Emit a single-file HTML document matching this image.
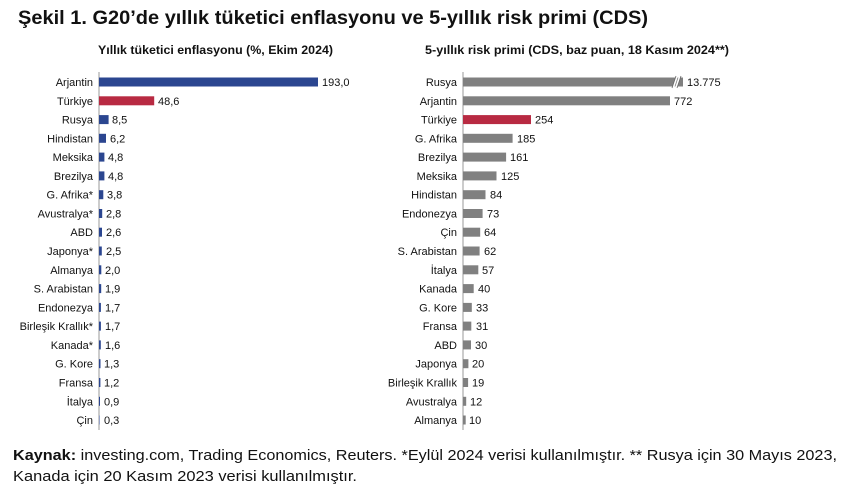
<!DOCTYPE html>
<html><head><meta charset="utf-8"><style>
html,body{margin:0;padding:0;background:#fff;}
svg{display:block;font-family:"Liberation Sans",Arial,sans-serif;}
.l{font-size:11px;fill:#111;text-anchor:end}
.v{font-size:11px;fill:#111}
</style></head><body>
<svg width="850" height="485" viewBox="0 0 850 485">
<text x="18" y="24" font-size="19" font-weight="bold" fill="#111" textLength="630" lengthAdjust="spacingAndGlyphs">Şekil 1. G20’de yıllık tüketici enflasyonu ve 5-yıllık risk primi (CDS)</text>
<text x="98" y="54" font-size="12" font-weight="bold" fill="#111" textLength="235" lengthAdjust="spacingAndGlyphs">Yıllık tüketici enflasyonu (%, Ekim 2024)</text>
<text x="425" y="54" font-size="12" font-weight="bold" fill="#111" textLength="304" lengthAdjust="spacingAndGlyphs">5-yıllık risk primi (CDS, baz puan, 18 Kasım 2024**)</text>
<line x1="99" y1="72" x2="99" y2="430" stroke="#999" stroke-width="1"/>
<line x1="463" y1="72" x2="463" y2="430" stroke="#999" stroke-width="1"/>

<g fill="#2b4690">
<g transform="translate(0,82)"><text class="l" x="93" y="4">Arjantin</text><rect x="99" y="-4.5" width="219" height="9"/><text class="v" x="322" y="4">193,0</text></g>
<g transform="translate(0,100.8)"><text class="l" x="93" y="4">Türkiye</text><rect x="99" y="-4.5" width="55.2" height="9" fill="#b82a42"/><text class="v" x="158" y="4">48,6</text></g>
<g transform="translate(0,119.6)"><text class="l" x="93" y="4">Rusya</text><rect x="99" y="-4.5" width="9.6" height="9"/><text class="v" x="112" y="4">8,5</text></g>
<g transform="translate(0,138.3)"><text class="l" x="93" y="4">Hindistan</text><rect x="99" y="-4.5" width="7" height="9"/><text class="v" x="110" y="4">6,2</text></g>
<g transform="translate(0,157.1)"><text class="l" x="93" y="4">Meksika</text><rect x="99" y="-4.5" width="5.4" height="9"/><text class="v" x="108" y="4">4,8</text></g>
<g transform="translate(0,175.9)"><text class="l" x="93" y="4">Brezilya</text><rect x="99" y="-4.5" width="5.4" height="9"/><text class="v" x="108" y="4">4,8</text></g>
<g transform="translate(0,194.7)"><text class="l" x="93" y="4">G. Afrika*</text><rect x="99" y="-4.5" width="4.3" height="9"/><text class="v" x="107" y="4">3,8</text></g>
<g transform="translate(0,213.5)"><text class="l" x="93" y="4">Avustralya*</text><rect x="99" y="-4.5" width="3.2" height="9"/><text class="v" x="106" y="4">2,8</text></g>
<g transform="translate(0,232.2)"><text class="l" x="93" y="4">ABD</text><rect x="99" y="-4.5" width="3" height="9"/><text class="v" x="106" y="4">2,6</text></g>
<g transform="translate(0,251)"><text class="l" x="93" y="4">Japonya*</text><rect x="99" y="-4.5" width="2.8" height="9"/><text class="v" x="106" y="4">2,5</text></g>
<g transform="translate(0,269.8)"><text class="l" x="93" y="4">Almanya</text><rect x="99" y="-4.5" width="2.3" height="9"/><text class="v" x="105" y="4">2,0</text></g>
<g transform="translate(0,288.6)"><text class="l" x="93" y="4">S. Arabistan</text><rect x="99" y="-4.5" width="2.2" height="9"/><text class="v" x="105" y="4">1,9</text></g>
<g transform="translate(0,307.4)"><text class="l" x="93" y="4">Endonezya</text><rect x="99" y="-4.5" width="1.9" height="9"/><text class="v" x="105" y="4">1,7</text></g>
<g transform="translate(0,326.1)"><text class="l" x="93" y="4">Birleşik Krallık*</text><rect x="99" y="-4.5" width="1.9" height="9"/><text class="v" x="105" y="4">1,7</text></g>
<g transform="translate(0,344.9)"><text class="l" x="93" y="4">Kanada*</text><rect x="99" y="-4.5" width="1.8" height="9"/><text class="v" x="105" y="4">1,6</text></g>
<g transform="translate(0,363.7)"><text class="l" x="93" y="4">G. Kore</text><rect x="99" y="-4.5" width="1.5" height="9"/><text class="v" x="104" y="4">1,3</text></g>
<g transform="translate(0,382.5)"><text class="l" x="93" y="4">Fransa</text><rect x="99" y="-4.5" width="1.4" height="9"/><text class="v" x="104" y="4">1,2</text></g>
<g transform="translate(0,401.3)"><text class="l" x="93" y="4">İtalya</text><rect x="99" y="-4.5" width="1" height="9"/><text class="v" x="104" y="4">0,9</text></g>
<g transform="translate(0,420)"><text class="l" x="93" y="4">Çin</text><rect x="99" y="-4.5" width="0.5" height="9"/><text class="v" x="104" y="4">0,3</text></g>
</g>

<g fill="#808080">
<g transform="translate(0,82)"><text class="l" x="457" y="4">Rusya</text><rect x="463" y="-4.5" width="220" height="9"/><line x1="673" y1="6" x2="677" y2="-6" stroke="#fff" stroke-width="2"/><line x1="676" y1="6" x2="680" y2="-6" stroke="#fff" stroke-width="2"/><line x1="672" y1="6" x2="676" y2="-6" stroke="#666" stroke-width="0.8"/><line x1="677" y1="6" x2="681" y2="-6" stroke="#666" stroke-width="0.8"/><text class="v" x="687" y="4">13.775</text></g>
<g transform="translate(0,100.8)"><text class="l" x="457" y="4">Arjantin</text><rect x="463" y="-4.5" width="207" height="9"/><text class="v" x="674" y="4">772</text></g>
<g transform="translate(0,119.6)"><text class="l" x="457" y="4">Türkiye</text><rect x="463" y="-4.5" width="68" height="9" fill="#b82a42"/><text class="v" x="535" y="4">254</text></g>
<g transform="translate(0,138.3)"><text class="l" x="457" y="4">G. Afrika</text><rect x="463" y="-4.5" width="49.6" height="9"/><text class="v" x="517" y="4">185</text></g>
<g transform="translate(0,157.1)"><text class="l" x="457" y="4">Brezilya</text><rect x="463" y="-4.5" width="43.1" height="9"/><text class="v" x="510" y="4">161</text></g>
<g transform="translate(0,175.9)"><text class="l" x="457" y="4">Meksika</text><rect x="463" y="-4.5" width="33.5" height="9"/><text class="v" x="501" y="4">125</text></g>
<g transform="translate(0,194.7)"><text class="l" x="457" y="4">Hindistan</text><rect x="463" y="-4.5" width="22.5" height="9"/><text class="v" x="490" y="4">84</text></g>
<g transform="translate(0,213.5)"><text class="l" x="457" y="4">Endonezya</text><rect x="463" y="-4.5" width="19.6" height="9"/><text class="v" x="487" y="4">73</text></g>
<g transform="translate(0,232.2)"><text class="l" x="457" y="4">Çin</text><rect x="463" y="-4.5" width="17.2" height="9"/><text class="v" x="484" y="4">64</text></g>
<g transform="translate(0,251)"><text class="l" x="457" y="4">S. Arabistan</text><rect x="463" y="-4.5" width="16.6" height="9"/><text class="v" x="484" y="4">62</text></g>
<g transform="translate(0,269.8)"><text class="l" x="457" y="4">İtalya</text><rect x="463" y="-4.5" width="15.3" height="9"/><text class="v" x="482" y="4">57</text></g>
<g transform="translate(0,288.6)"><text class="l" x="457" y="4">Kanada</text><rect x="463" y="-4.5" width="10.7" height="9"/><text class="v" x="478" y="4">40</text></g>
<g transform="translate(0,307.4)"><text class="l" x="457" y="4">G. Kore</text><rect x="463" y="-4.5" width="8.8" height="9"/><text class="v" x="476" y="4">33</text></g>
<g transform="translate(0,326.1)"><text class="l" x="457" y="4">Fransa</text><rect x="463" y="-4.5" width="8.3" height="9"/><text class="v" x="476" y="4">31</text></g>
<g transform="translate(0,344.9)"><text class="l" x="457" y="4">ABD</text><rect x="463" y="-4.5" width="8" height="9"/><text class="v" x="475" y="4">30</text></g>
<g transform="translate(0,363.7)"><text class="l" x="457" y="4">Japonya</text><rect x="463" y="-4.5" width="5.4" height="9"/><text class="v" x="472" y="4">20</text></g>
<g transform="translate(0,382.5)"><text class="l" x="457" y="4">Birleşik Krallık</text><rect x="463" y="-4.5" width="5.1" height="9"/><text class="v" x="472" y="4">19</text></g>
<g transform="translate(0,401.3)"><text class="l" x="457" y="4">Avustralya</text><rect x="463" y="-4.5" width="3.2" height="9"/><text class="v" x="470" y="4">12</text></g>
<g transform="translate(0,420)"><text class="l" x="457" y="4">Almanya</text><rect x="463" y="-4.5" width="2.7" height="9"/><text class="v" x="469" y="4">10</text></g>
</g>

<text x="13" y="460" font-size="15" fill="#111" textLength="824" lengthAdjust="spacingAndGlyphs"><tspan font-weight="bold">Kaynak:</tspan> investing.com, Trading Economics, Reuters. *Eylül 2024 verisi kullanılmıştır. ** Rusya için 30 Mayıs 2023,</text>
<text x="13" y="481" font-size="15" fill="#111" textLength="344" lengthAdjust="spacingAndGlyphs">Kanada için 20 Kasım 2023 verisi kullanılmıştır.</text>
</svg>
</body></html>
